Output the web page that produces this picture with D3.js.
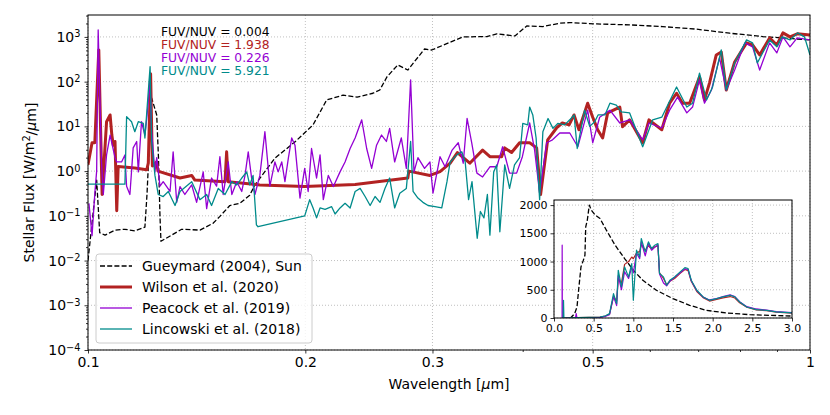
<!DOCTYPE html>
<html>
<head>
<meta charset="utf-8">
<script src="https://cdn.jsdelivr.net/npm/d3@7"></script>
<style>
  body { margin: 0; background: #fff; }
  svg { font-family: "DejaVu Sans", sans-serif; }
</style>
</head>
<body>
<svg id="chart" width="830" height="415"></svg>
<script>
/* stellar spectra (wavelength in um, flux in W/m2/um) */

const sunWave = [0.100,0.1028,0.1038,0.1056,0.109,0.1125,0.1161,0.1199,0.1207,0.1215,0.1225,0.1245,0.1252,0.1258,0.1262,
  0.1348,0.1429,0.149,0.1523,0.1572,0.1623,0.1675,0.1703,0.1815,0.1935,0.2049,0.2141,0.2256,0.2359,0.2481,0.2536,
  0.2594,0.2686,0.2773,0.2925,0.2993,0.3304,0.3567,0.3683,0.3902,0.4052,0.4264,0.4502,0.4648,0.5065,0.5626,0.6252,
  0.6966,0.7739,0.86,1.0];
const sunFlux = [0.010,0.63,0.042,0.037,0.048,0.05,0.046,0.056,0.3,3,43,18,2,0.1,0.027,
  0.05,0.048,0.068,0.097,0.17,0.19,0.29,0.49,1.95,4.5,10.7,39,50,45,55,65,
  127,237,182,537,510,1000,1020,1170,1050,1760,1700,2025,2090,1950,1860,1700,
  1490,1210,1020,857];

const wilsonWave = [0.100,0.1013,0.1022,0.1035,0.1046,0.1061,0.1073,0.1079,0.1084,0.109,0.1096,0.1101,0.1161,0.1206,
  0.1212,0.1221,0.1228,0.1245,0.125,0.1341,0.1392,0.1406,0.1548,0.1556,0.1564,0.173,0.1996,0.2344,0.2773,0.2782,
  0.2976,0.3073,0.3174,0.3248,0.3379,0.352,0.3603,0.374,0.3777,0.3861,0.3961,0.409,0.4182,0.4235,0.4332,0.4456,
  0.4539,0.4638,0.4712,0.4786,0.4921,0.5001,0.5081,0.5162,0.5245,0.5452,0.55,0.5626,0.5865,0.5984,0.6233,0.6391,
  0.6534,0.6659,0.6812,0.703,0.7142,0.7257,0.7416,0.7535,0.7657,0.7864,0.8168,0.8326,0.8517,0.8791,0.8997,0.9173,
  0.9382,0.96,1.0];
const wilsonFlux = [1.38,4.3,4.3,513,0.30,12.7,18,6.4,3.8,4.6,0.13,1.26,1.17,1.07,
  1.5,150,1.3,1.6,1.0,0.70,0.8,0.63,0.58,2.7,0.58,0.49,0.45,0.50,0.70,1.0,
  0.8,0.97,1.5,2.6,1.5,2.95,2.1,2.1,3.3,2.6,4.3,4.3,3.3,0.3,5.0,9.2,
  11.9,10.8,18,8.4,33,16,8.4,5.5,20,27,9.8,14,4.3,14,8.4,33,
  55,33,33,127,39,93,395,460,65,276,735,660,395,950,660,1230,
  1000,1170,1110];

const peacockWave = [0.1003,0.1013,0.1022,0.1028,0.1033,0.1044,0.105,0.1061,0.1073,0.109,0.1096,0.1113,0.1125,0.1131,
  0.1143,0.1155,0.1168,0.1174,0.1186,0.1199,0.1206,0.1219,0.1225,0.1238,0.1245,0.1258,0.1271,0.1299,0.1312,0.1327,
  0.1341,0.1362,0.1392,0.1414,0.1444,0.146,0.1483,0.1507,0.1523,0.1539,0.1564,0.1582,0.1607,0.1633,0.165,0.1667,
  0.1685,0.1703,0.173,0.1758,0.1786,0.1815,0.1834,0.1855,0.1874,0.1895,0.1915,0.1935,0.1966,0.1996,0.2018,0.204,
  0.2073,0.2096,0.2118,0.2152,0.2187,0.2234,0.227,0.2307,0.2344,0.2394,0.2432,0.2471,0.251,0.255,0.259,0.2617,
  0.2659,0.2716,0.276,0.2798,0.2828,0.2864,0.2925,0.2976,0.3005,0.3073,0.3123,0.3194,0.3257,0.3309,0.335,0.34,
  0.3457,0.352,0.3603,0.3683,0.3752,0.3836,0.3923,0.3996,0.409,0.4155,0.4222,0.4318,0.4399,0.4502,0.4648,0.4769,
  0.4921,0.5001,0.5113,0.5283,0.5452,0.5626,0.5865,0.5984,0.6233,0.6391,0.6555,0.6751,0.6876,0.703,0.7142,0.7303,
  0.7493,0.7657,0.7864,0.8124,0.8326,0.8517,0.8791,0.8997,0.9173,0.9382,0.96,1.0];
const peacockFlux = [0.19,0.036,0.32,1.0,1430,1.6,0.3,2.3,6.4,2.0,1.6,1.6,2.3,0.46,
  0.3,3.3,4.6,0.96,12.7,6.4,15,100,7.6,0.96,2.0,0.46,0.58,0.35,2.7,0.2,
  0.45,0.3,0.49,0.2,0.96,0.145,0.7,0.46,2.1,0.3,1.6,0.3,0.58,0.35,0.8,2.7,
  0.7,0.3,0.8,7.6,0.46,1.6,0.96,1.6,0.58,2.0,5.5,3.8,0.25,1.15,0.35,3.2,
  0.7,2.3,0.23,0.8,0.45,0.96,1.6,3.2,5.5,14,3.2,1.15,3.8,6.4,4.6,9.0,
  1.6,5.5,1.15,110,0.96,2.0,1.15,1.6,0.32,2.1,1.25,2.95,4.3,1.5,15,4.3,
  0.9,0.74,1.25,1.25,3.5,0.9,0.9,2.1,11.9,2.95,0.32,4.3,5,7.1,7.1,3.5,
  23,4.3,16,23,11.9,14,5,11.9,9.2,23,45,20,27,110,33,65,
  340,65,182,735,600,182,735,440,1000,600,950,857];

const lincowskiWave = [0.100,0.1125,0.1131,0.1149,0.1161,0.1174,0.1193,0.1199,0.1219,0.1225,0.1238,0.1251,0.1271,
  0.1292,0.132,0.1341,0.1392,0.1429,0.146,0.1483,0.1515,0.1548,0.1582,0.1607,0.1633,0.1659,0.1675,0.1693,0.1711,
  0.172,0.1996,0.2028,0.205,0.2073,0.2096,0.213,0.2175,0.2199,0.2234,0.227,0.2307,0.2344,0.2382,0.242,0.2459,
  0.2498,0.2538,0.2578,0.2617,0.2659,0.2703,0.276,0.2798,0.282,0.2864,0.291,0.2958,0.3024,0.309,0.3142,0.3174,
  0.3241,0.3294,0.333,0.3366,0.3403,0.346,0.3495,0.3535,0.3574,0.3603,0.3647,0.3681,0.3719,0.3777,0.3836,0.3897,
  0.3961,0.4001,0.4065,0.409,0.4131,0.4175,0.4222,0.4266,0.4337,0.4406,0.4474,0.4573,0.4648,0.4712,0.476,0.4874,
  0.4953,0.5033,0.5087,0.52,0.5283,0.5392,0.5478,0.5626,0.5865,0.6055,0.6233,0.6534,0.6751,0.6876,0.703,0.7189,
  0.733,0.7535,0.7657,0.7864,0.8168,0.8326,0.8453,0.8791,0.8997,0.9144,0.9382,0.9611,0.9826,1.0];
const lincowskiFlux = [0.51,0.51,16.5,12.7,7.6,12.7,11.6,5.5,217,4.6,0.8,0.3,0.27,
  0.35,0.17,0.35,0.58,0.23,0.3,0.17,0.41,0.3,0.58,0.49,0.7,0.96,0.49,0.8,0.063,
  0.057,0.1,0.23,0.15,0.09,0.15,0.14,0.16,0.11,0.15,0.19,0.15,0.35,0.41,0.27,0.17,
  0.27,0.2,0.41,0.7,0.15,0.32,0.41,4.6,0.35,0.25,0.2,0.17,0.16,0.15,0.58,1.6,
  2.3,2.7,1.6,0.23,0.58,0.0315,0.125,0.09,0.3,0.037,0.96,1.37,0.044,1.37,0.41,1.37,
  2.0,11.6,10.8,27,18,5.5,0.23,7.6,15,9.0,11.6,10.8,14,18,3.2,23,
  10,12.7,18,18,33,30,21,20,3.5,14,16,76,27,33,155,39,
  76,510,65,262,857,735,262,857,600,1000,857,1230,1000,395];

// inset (linear, 0 - 3 um)
const insetSunWave = [0.20,0.22,0.26,0.29,0.31,0.34,0.37,0.39,0.40,0.42,0.445,0.47,0.52,0.58,0.66,0.77,0.89,1.0,
  1.12,1.29,1.5,1.71,1.92,2.17,2.47,3.0];
const insetSunFlux = [0,18,77,195,490,905,1024,1112,1615,1734,2000,1911,1822,1763,1556,1290,1053,846,
  669,491,343,225,136,89,59,35];

const insetWilsonWave = [0.10,0.30,0.58,0.65,0.70,0.75,0.79,0.81,0.85,0.89,0.94,0.98,1.00,1.04,1.08,1.10,1.15,1.19,
  1.23,1.27,1.31,1.33,1.38,1.42,1.46,1.52,1.59,1.65,1.69,1.73,1.80,1.88,1.96,2.05,2.13,2.22,2.28,2.34,2.43,2.55,
  2.68,2.80,3.00];
const insetWilsonFlux = [0,5,15,35,70,380,300,700,620,950,1000,1080,1050,1150,1180,1300,1200,1280,
  1220,1260,1280,800,700,590,650,700,790,860,840,650,470,360,300,330,355,380,355,270,190,145,
  130,105,88];

const insetPeacockWave = [0.10,0.102,0.103,0.105,0.27,0.28,0.29,0.40,0.58,0.65,0.70,0.75,0.79,0.81,0.85,0.89,0.94,
  0.98,1.00,1.04,1.08,1.10,1.15,1.19,1.23,1.27,1.31,1.33,1.38,1.42,1.46,1.52,1.59,1.65,1.69,1.73,1.80,1.88,1.96,
  2.05,2.13,2.22,2.28,2.34,2.43,2.55,2.68,2.80,3.00];
const insetPeacockFlux = [0,0,1290,0,0,77,0,5,12,30,60,380,220,750,500,820,700,
  900,800,1150,1050,1350,1100,1320,1200,1250,1300,780,620,570,650,720,800,870,860,660,485,370,320,
  345,380,410,380,290,200,160,140,112,95];

const insetLincowskiWave = [0.10,0.115,0.12,0.125,0.30,0.58,0.65,0.70,0.75,0.79,0.81,0.85,0.89,0.94,0.98,1.00,1.04,
  1.08,1.10,1.15,1.19,1.23,1.27,1.31,1.33,1.38,1.42,1.46,1.52,1.59,1.65,1.69,1.73,1.80,1.88,1.96,2.05,2.13,2.22,
  2.28,2.34,2.43,2.55,2.68,2.80,3.00];
const insetLincowskiFlux = [0,0,313,0,5,18,40,77,432,254,846,550,905,728,964,313,1201,
  1083,1408,1172,1349,1231,1290,1319,787,728,580,669,728,817,893,876,669,491,373,313,343,373,402,
  373,284,195,148,136,107,89];

const xTicks = [0.1, 0.2, 0.3, 0.5, 1];
const xMinorTicks = [0.4, 0.6, 0.7, 0.8, 0.9];
const yExponents = [-4, -3, -2, -1, 0, 1, 2, 3];
const ratioLabels = ["FUV/NUV = 0.004", "FUV/NUV = 1.938", "FUV/NUV = 0.226", "FUV/NUV = 5.921"];
const legendLabels = ["Gueymard (2004), Sun", "Wilson et al. (2020)", "Peacock et al. (2019)", "Lincowski et al. (2018)"];
const insetXTicks = [0, 0.5, 1.0, 1.5, 2.0, 2.5, 3.0];
const insetYTicks = [0, 500, 1000, 1500, 2000];

const zip = (a, b) => a.map((v, i) => [v, b[i]]);

const series = [
  {name: legendLabels[0], data: zip(sunWave, sunFlux), inset: zip(insetSunWave, insetSunFlux), color: "#000", width: 1.3, dash: "5,2.2"},
  {name: legendLabels[1], data: zip(wilsonWave, wilsonFlux), inset: zip(insetWilsonWave, insetWilsonFlux), color: "#b22222", width: 3, dash: null},
  {name: legendLabels[2], data: zip(peacockWave, peacockFlux), inset: zip(insetPeacockWave, insetPeacockFlux), color: "#9400d3", width: 1.3, dash: null},
  {name: legendLabels[3], data: zip(lincowskiWave, lincowskiFlux), inset: zip(insetLincowskiWave, insetLincowskiFlux), color: "#008b8b", width: 1.3, dash: null}
];

const svg = d3.select("#chart");
const margin = {top: 15, right: 20, bottom: 65, left: 88};
const width = 830 - margin.left - margin.right;
const height = 415 - margin.top - margin.bottom;

const x = d3.scaleLog().domain([0.1, 1]).range([0, width]);
const y = d3.scaleLog().domain([1e-4, Math.pow(10, 3.49)]).range([height, 0]);

const g = svg.append("g").attr("transform", `translate(${margin.left},${margin.top})`);

g.append("clipPath").attr("id", "clipMain")
  .append("rect").attr("width", width).attr("height", height);

// grid
const gridColor = "#b0b0b0";
g.append("g").selectAll("line").data(xTicks).join("line")
  .attr("x1", d => x(d)).attr("x2", d => x(d)).attr("y1", 0).attr("y2", height)
  .attr("stroke", gridColor).attr("stroke-width", 0.8).attr("stroke-dasharray", "1,2");
g.append("g").selectAll("line").data(yExponents.map(e => Math.pow(10, e))).join("line")
  .attr("x1", 0).attr("x2", width).attr("y1", d => y(d)).attr("y2", d => y(d))
  .attr("stroke", gridColor).attr("stroke-width", 0.8).attr("stroke-dasharray", "1,2");

// spectra
const line = d3.line().x(d => x(d[0])).y(d => y(d[1]));
const plot = g.append("g").attr("clip-path", "url(#clipMain)");
series.forEach(s => {
  plot.append("path").datum(s.data)
    .attr("fill", "none").attr("stroke", s.color).attr("stroke-width", s.width)
    .attr("stroke-linejoin", "round")
    .attr("stroke-dasharray", s.dash)
    .attr("d", line);
});

// axes
const yMinor = [];
for (let e = -4; e <= 3; e++) for (let m = 2; m <= 9; m++) {
  const v = m * Math.pow(10, e);
  if (v < y.domain()[1]) yMinor.push(v);
}

const xAxisG = g.append("g").attr("transform", `translate(0,${height})`)
  .call(d3.axisBottom(x).tickValues(xTicks).tickFormat(d => d3.format("")(d)).tickSize(3.5).tickPadding(4));
g.append("g").attr("transform", `translate(0,${height})`)
  .call(d3.axisBottom(x).tickValues(xMinorTicks).tickFormat("").tickSize(2));

const yAxisG = g.append("g")
  .call(d3.axisLeft(y).tickValues(yExponents.map(e => Math.pow(10, e))).tickSize(3.5).tickPadding(4));
g.append("g")
  .call(d3.axisLeft(y).tickValues(yMinor).tickFormat("").tickSize(2));

g.selectAll(".domain").remove();
g.selectAll(".tick line").attr("stroke", "#000").attr("stroke-width", 0.8);
xAxisG.selectAll("text").attr("font-size", 14).attr("fill", "#000").attr("font-family", "DejaVu Sans");

yAxisG.selectAll(".tick text").each(function(d) {
  const t = d3.select(this).attr("font-size", 14).attr("fill", "#000").attr("font-family", "DejaVu Sans").text(null);
  const e = Math.round(Math.log10(d));
  t.append("tspan").text("10");
  t.append("tspan").attr("dy", "-0.45em").attr("font-size", "0.7em").text(e < 0 ? "\u2212" + (-e) : e);
});

g.append("rect").attr("width", width).attr("height", height)
  .attr("fill", "none").attr("stroke", "#000").attr("stroke-width", 1);

// axis labels
const xl = svg.append("text").attr("x", margin.left + width / 2).attr("y", 389)
  .attr("text-anchor", "middle").attr("font-size", 14);
xl.append("tspan").text("Wavelength [");
xl.append("tspan").attr("font-style", "italic").text("\u03bc");
xl.append("tspan").text("m]");

const yl = svg.append("text").attr("transform", `translate(34,${margin.top + height / 2}) rotate(-90)`)
  .attr("text-anchor", "middle").attr("font-size", 14);
yl.append("tspan").text("Stellar Flux [W/m");
yl.append("tspan").attr("dy", "-0.45em").attr("font-size", "0.7em").text("2");
yl.append("tspan").attr("dy", "0.45em").text("/");
yl.append("tspan").attr("font-style", "italic").text("\u03bc");
yl.append("tspan").text("m]");

// FUV/NUV notes
g.append("g").selectAll("text").data(ratioLabels).join("text")
  .attr("x", 73).attr("y", (d, i) => 20.5 + i * 13.2)
  .attr("font-size", 12.3)
  .attr("fill", (d, i) => series[i].color)
  .text(d => d);

// legend
const lg = g.append("g").attr("transform", "translate(8,239)");
lg.append("rect").attr("width", 216).attr("height", 89).attr("rx", 3)
  .attr("fill", "#fff").attr("fill-opacity", 0.8).attr("stroke", "#cccccc");
series.forEach((s, i) => {
  const yy = 12 + i * 21;
  lg.append("line").attr("x1", 4).attr("x2", 36).attr("y1", yy).attr("y2", yy)
    .attr("stroke", s.color).attr("stroke-width", s.width).attr("stroke-dasharray", s.dash);
  lg.append("text").attr("x", 46).attr("y", yy + 5).attr("font-size", 14).text(s.name);
});

// inset
const inset = {left: 554, top: 200, width: 238, height: 118};
const xi = d3.scaleLinear().domain([0, 3]).range([0, inset.width]);
const yi = d3.scaleLinear().domain([0, 2090]).range([inset.height, 0]);
const ig = svg.append("g").attr("transform", `translate(${inset.left},${inset.top})`);
ig.append("rect").attr("width", inset.width).attr("height", inset.height).attr("fill", "#fff");
ig.append("clipPath").attr("id", "clipInset")
  .append("rect").attr("width", inset.width).attr("height", inset.height);

ig.append("g").selectAll("line").data(insetXTicks).join("line")
  .attr("x1", d => xi(d)).attr("x2", d => xi(d)).attr("y1", 0).attr("y2", inset.height)
  .attr("stroke", gridColor).attr("stroke-width", 0.8).attr("stroke-dasharray", "1,2");
ig.append("g").selectAll("line").data(insetYTicks).join("line")
  .attr("x1", 0).attr("x2", inset.width).attr("y1", d => yi(d)).attr("y2", d => yi(d))
  .attr("stroke", gridColor).attr("stroke-width", 0.8).attr("stroke-dasharray", "1,2");

const lineInset = d3.line().x(d => xi(d[0])).y(d => yi(d[1]));
const iplot = ig.append("g").attr("clip-path", "url(#clipInset)");
series.forEach(s => {
  iplot.append("path").datum(s.inset)
    .attr("fill", "none").attr("stroke", s.color).attr("stroke-width", s.dash ? 1.3 : 1.2)
    .attr("stroke-linejoin", "round").attr("stroke-dasharray", s.dash)
    .attr("d", lineInset);
});

const ixAxis = ig.append("g").attr("transform", `translate(0,${inset.height})`)
  .call(d3.axisBottom(xi).tickValues(insetXTicks).tickFormat(d3.format(".1f")).tickSize(3.5).tickPadding(3));
const iyAxis = ig.append("g")
  .call(d3.axisLeft(yi).tickValues(insetYTicks).tickFormat(d3.format("d")).tickSize(3.5).tickPadding(3));
ig.selectAll(".domain").remove();
ig.selectAll(".tick line").attr("stroke", "#000").attr("stroke-width", 0.8);
ig.selectAll(".tick text").attr("font-size", 11).attr("fill", "#000").attr("font-family", "DejaVu Sans");
ig.append("rect").attr("width", inset.width).attr("height", inset.height)
  .attr("fill", "none").attr("stroke", "#000").attr("stroke-width", 1);
</script>
</body>
</html>
